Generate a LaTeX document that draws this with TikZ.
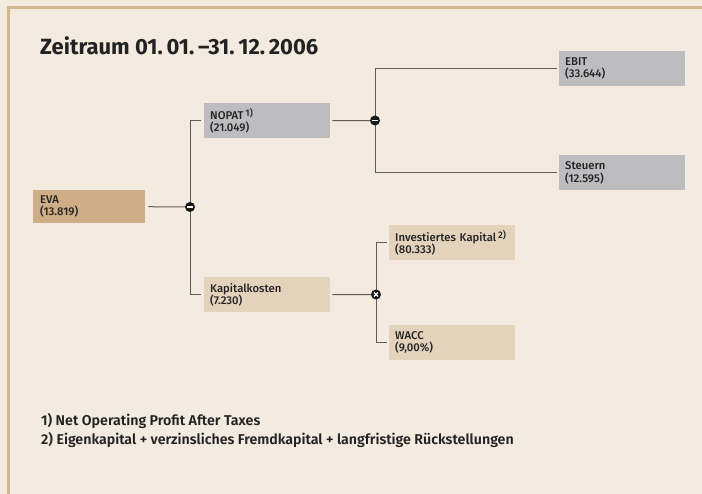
\documentclass[tikz,border=0pt]{standalone}
\usepackage{fontspec}
\setmainfont{Fira Sans}
\newfontfamily\medfont{Fira Sans Medium}
\newfontfamily\semifont{Fira Sans SemiBold}
\usetikzlibrary{calc}
\definecolor{bgc}{HTML}{F3EBE0}
\definecolor{framec}{HTML}{D5B590}
\definecolor{evac}{HTML}{CFAE87}
\definecolor{greyc}{HTML}{BDBDC0}
\definecolor{beigec}{HTML}{E3D3BD}
\definecolor{linec}{HTML}{5F5A55}
\definecolor{txtc}{HTML}{222222}
\newcommand{\fnmark}[1]{\,\raisebox{3pt}{\fontsize{9.5}{9.5}\selectfont #1}}
\tikzset{
  boxbase/.style={rectangle, anchor=north west, inner xsep=6pt, inner ysep=0pt, align=left,
    text=txtc, font=\medfont\fontsize{11.3}{12.5}\selectfont, minimum height=35pt, text width=114pt},
  evabox/.style={boxbase, fill=evac, text width=98pt, minimum height=33pt, inner xsep=7pt},
  greybox/.style={boxbase, fill=greyc},
  beigebox/.style={boxbase, fill=beigec},
  conn/.style={draw=linec, line width=1pt},
  opnode/.style={circle, fill=black!90, minimum size=10pt, inner sep=0pt},
  fnote/.style={anchor=base west, font=\semifont\fontsize{14.2}{16}\selectfont, text=txtc, inner sep=0pt},
}
\begin{document}
\begin{tikzpicture}[x=1pt,y=-1pt]
\fill[bgc] (0,0) rectangle (702,494);
\useasboundingbox (0,0) rectangle (702,494);
\fill[framec] (7,6) rectangle (702,8.7);
\fill[framec] (7,6) rectangle (9.7,494);

\node[anchor=base west, font=\fontsize{22}{24}\selectfont\bfseries, text=txtc, inner sep=0pt] (title) at (40,55)
  {Zeitraum 01.\,01.\,–31.\,12.\,2006};

\node[evabox] (eva) at (33,190) {EVA\\(13.819)};
\node[greybox] (nopat) at (204,103) {NOPAT\fnmark{1)}\\(21.049)};
\node[beigebox] (kk) at (204,277) {Kapitalkosten\\(7.230)};
\node[greybox] (ebit) at (559,51) {EBIT\\(33.644)};
\node[greybox] (steuern) at (559,155) {Steuern\\(12.595)};
\node[beigebox] (ik) at (389,225) {Investiertes Kapital\fnmark{2)}\\(80.333)};
\node[beigebox] (wacc) at (389,325) {WACC\\(9,00\%)};

\coordinate (m1) at (190,207);
\coordinate (m2) at (375,120.5);
\coordinate (m3) at (376,294.5);

\draw[conn, shorten <=3pt] (eva.east) -- (m1);
\draw[conn, shorten >=3pt] (m1) |- (nopat.west);
\draw[conn, shorten >=3pt] (m1) |- (kk.west);
\draw[conn, shorten <=2pt] (nopat.east) -- (m2);
\draw[conn, shorten >=2pt] (m2) |- (ebit.west);
\draw[conn, shorten >=2pt] (m2) |- (steuern.west);
\draw[conn, shorten <=2pt] (kk.east) -- (m3);
\draw[conn, shorten >=2pt] (m3) |- (ik.west);
\draw[conn, shorten >=2pt] (m3) |- (wacc.west);

\node[opnode] (op1) at (m1) {};
\node[opnode] (op2) at (m2) {};
\node[opnode] (op3) at (m3) {};
\fill[white] ($(op1)+(-3,-0.9)$) rectangle ($(op1)+(3,0.9)$);
\fill[white] ($(op2)+(-3,-0.9)$) rectangle ($(op2)+(3,0.9)$);
\draw[white, line width=1.1pt] ($(op3)+(-1.9,-1.9)$) -- ($(op3)+(1.9,1.9)$);
\draw[white, line width=1.1pt] ($(op3)+(-1.9,1.9)$) -- ($(op3)+(1.9,-1.9)$);

\node[fnote] (fn1) at (41,425) {1) Net Operating Profit After Taxes};
\node[fnote] (fn2) at (41,445) {2) Eigenkapital + verzinsliches Fremdkapital + langfristige Rückstellungen};
\end{tikzpicture}
\end{document}
